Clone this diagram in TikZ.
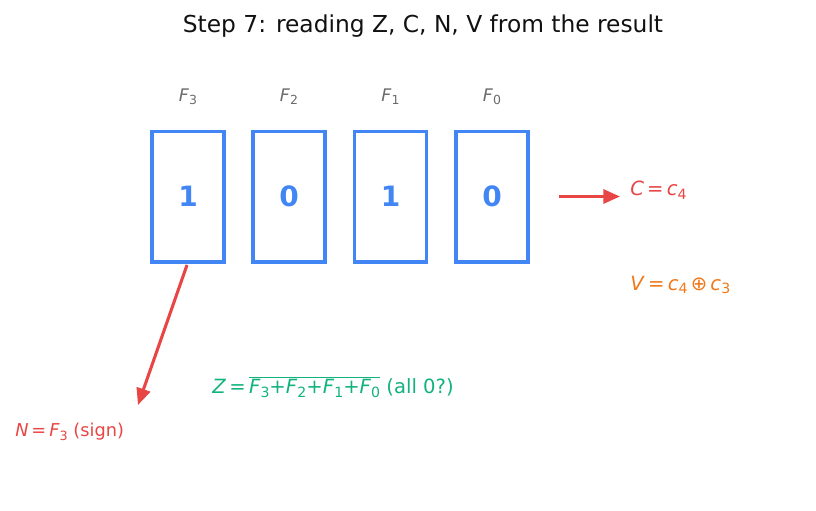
\documentclass[tikz,border=0pt]{standalone}
\usepackage{fontspec}
\setmainfont{DejaVu Sans}
\usetikzlibrary{arrows.meta}
\definecolor{cblue}{HTML}{4285F4}
\definecolor{cred}{HTML}{E84545}
\definecolor{corange}{HTML}{F07818}
\definecolor{cgreen}{HTML}{12B27E}
\definecolor{cgray}{HTML}{6B6B6B}
\definecolor{ctitle}{HTML}{111111}
\newcommand\sbs[1]{\raisebox{-0.35ex}{\scalebox{0.72}{#1}}}
\newcommand\vr[1]{\textit{#1}}
\tikzset{
  bitbox/.style={draw=cblue, line width=2.5pt, minimum width=54pt, minimum height=98pt, inner sep=0pt, text=cblue, font=\fontsize{21}{24}\selectfont\bfseries},
  flab/.style={text=cgray, font=\fontsize{13}{15}\selectfont},
  redarrow/.style={draw=cred, line width=2.3pt, -{Triangle[length=12.5pt,width=10.5pt]}},
  lab/.style={anchor=west, inner sep=0pt, font=\fontsize{14.7}{17}\selectfont},
}
\begin{document}
\begin{tikzpicture}[x=0.75pt,y=-0.75pt]
\useasboundingbox (0,0) rectangle (816,510);
\node[text=ctitle, font=\fontsize{17.5}{21}\selectfont] (title) at (423,26) {Step 7: reading Z, C, N, V from the result};
\node[bitbox] (b3) at (188,196.5) {1};
\node[bitbox] (b2) at (289,196.5) {0};
\node[bitbox] (b1) at (390.5,196.5) {1};
\node[bitbox] (b0) at (492,196.5) {0};
\node[flab] (f3) at (188,97) {\vr{F}\sbs{3}};
\node[flab] (f2) at (289,97) {\vr{F}\sbs{2}};
\node[flab] (f1) at (390.5,97) {\vr{F}\sbs{1}};
\node[flab] (f0) at (492,97) {\vr{F}\sbs{0}};
\coordinate (cs) at (559,196.5);
\coordinate (ce) at (620,196.5);
\draw[redarrow] (cs) -- (ce);
\node[lab, text=cred] (cl) at (630,190) {\vr{C}\,=\,\vr{c}\sbs{4}};
\node[lab, text=corange] (vl) at (630,285) {\vr{V}\,=\,\vr{c}\sbs{4}\,⊕\,\vr{c}\sbs{3}};
\coordinate (ns) at (187,265);
\coordinate (ne) at (138,405);
\draw[redarrow] (ns) -- (ne);
\node[lab, text=cgreen] (zl) at (212,387) {\vr{Z}\,=\,$\overline{\hbox{\vr{F}\sbs{3}+\vr{F}\sbs{2}+\vr{F}\sbs{1}+\vr{F}\sbs{0}}}$ (all 0?)};
\node[lab, text=cred, font=\fontsize{13.3}{16}\selectfont] (nl) at (15,432) {\vr{N}\,=\,\vr{F}\sbs{3} (sign)};
\end{tikzpicture}
\end{document}
